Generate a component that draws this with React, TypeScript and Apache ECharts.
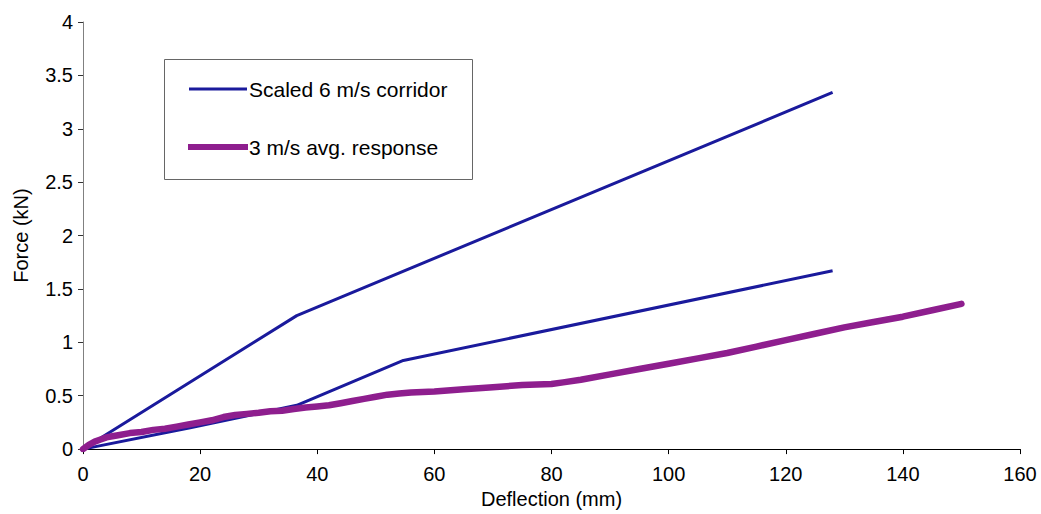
import React, { useEffect, useRef } from "react";
import * as echarts from "echarts";

const corridorName = "Scaled 6 m/s corridor";
const responseName = "3 m/s avg. response";

const upperX = [0, 36.5, 128];
const upperY = [0, 1.25, 3.34];
const lowerX = [0, 18.3, 36.5, 54.7, 128];
const lowerY = [0, 0.2, 0.41, 0.83, 1.67];

const respX = [0, 1, 2, 3, 4, 5, 6, 8, 10, 12, 14, 16, 18, 20, 22, 24, 26, 28, 30, 32, 34, 36, 38, 40, 42, 44, 46, 48, 50, 52, 54, 56, 58, 60, 65, 70, 75, 80, 82, 85, 90, 95, 100, 105, 110, 115, 120, 125, 130, 135, 140, 145, 150];
const respY = [0, 0.04, 0.07, 0.09, 0.11, 0.12, 0.13, 0.15, 0.16, 0.18, 0.19, 0.21, 0.23, 0.25, 0.27, 0.3, 0.32, 0.33, 0.34, 0.355, 0.36, 0.375, 0.39, 0.4, 0.41, 0.43, 0.45, 0.47, 0.49, 0.51, 0.52, 0.53, 0.535, 0.54, 0.56, 0.58, 0.6, 0.61, 0.625, 0.65, 0.7, 0.75, 0.8, 0.85, 0.9, 0.96, 1.02, 1.08, 1.14, 1.19, 1.24, 1.3, 1.36];

const xTitle = "Deflection (mm)";
const yTitle = "Force (kN)";

const pairs = (xs: number[], ys: number[]) => xs.map((x, i) => [x, ys[i]]);

const FONT = "Arial, 'Liberation Sans', sans-serif";
const BLUE = "#1a1a9c";
const PURPLE = "#8e1e8e";

export default function App() {
  const ref = useRef<HTMLDivElement>(null);
  useEffect(() => {
    if (!ref.current) return;
    const chart = echarts.init(ref.current, null, { renderer: "svg" });
    chart.setOption({
      animation: false,
      backgroundColor: "#ffffff",
      textStyle: { fontFamily: FONT, color: "#000" },
      grid: { left: 83, right: 21, top: 22, bottom: 61 },
      graphic: [
        {
          type: "rect",
          shape: { x: 164.5, y: 59.5, width: 308, height: 120 },
          style: { fill: "#fff", stroke: "#666", lineWidth: 1 },
          z: 10,
        },
        {
          type: "line",
          shape: { x1: 189, y1: 89, x2: 247, y2: 89 },
          style: { stroke: BLUE, lineWidth: 3 },
          z: 11,
        },
        {
          type: "text",
          x: 249,
          y: 89,
          style: {
            text: corridorName,
            fontFamily: FONT,
            fontSize: 21,
            fill: "#000",
            verticalAlign: "middle",
            align: "left",
          },
          z: 11,
        },
        {
          type: "line",
          shape: { x1: 188, y1: 147, x2: 248, y2: 147 },
          style: { stroke: PURPLE, lineWidth: 6 },
          z: 11,
        },
        {
          type: "text",
          x: 249,
          y: 147,
          style: {
            text: responseName,
            fontFamily: FONT,
            fontSize: 21,
            fill: "#000",
            verticalAlign: "middle",
            align: "left",
          },
          z: 11,
        },
      ],
      xAxis: {
        type: "value",
        min: 0,
        max: 160,
        interval: 20,
        name: xTitle,
        nameLocation: "middle",
        nameGap: 37,
        nameTextStyle: { fontFamily: FONT, fontSize: 20, color: "#000" },
        axisLine: { onZero: false, lineStyle: { color: "#000", width: 1 } },
        axisTick: { show: true, length: 5, lineStyle: { color: "#000" } },
        axisLabel: { fontFamily: FONT, fontSize: 20, color: "#000", margin: 15 },
        splitLine: { show: false },
      },
      yAxis: {
        type: "value",
        min: 0,
        max: 4,
        interval: 0.5,
        name: yTitle,
        nameLocation: "middle",
        nameGap: 52,
        nameTextStyle: { fontFamily: FONT, fontSize: 20, color: "#000" },
        axisLine: { show: true, lineStyle: { color: "#808080", width: 1 } },
        axisTick: { show: true, length: 5, lineStyle: { color: "#333" } },
        axisLabel: { fontFamily: FONT, fontSize: 20, color: "#000", margin: 10 },
        splitLine: { show: false },
      },
      series: [
        {
          name: corridorName,
          type: "line",
          data: pairs(upperX, upperY),
          showSymbol: false,
          symbol: "none",
          lineStyle: { color: BLUE, width: 3 },
          itemStyle: { color: BLUE },
          z: 2,
        },
        {
          name: corridorName,
          type: "line",
          data: pairs(lowerX, lowerY),
          showSymbol: false,
          symbol: "none",
          lineStyle: { color: BLUE, width: 3 },
          itemStyle: { color: BLUE },
          z: 2,
        },
        {
          name: responseName,
          type: "line",
          data: pairs(respX, respY),
          showSymbol: false,
          symbol: "none",
          lineStyle: { color: PURPLE, width: 6.5, cap: "round", join: "round" },
          itemStyle: { color: PURPLE },
          z: 3,
        },
      ],
    });
    return () => chart.dispose();
  }, []);
  return (
    <div
      ref={ref}
      style={{ position: "absolute", left: 0, top: 0, width: 1041, height: 514 }}
    />
  );
}
